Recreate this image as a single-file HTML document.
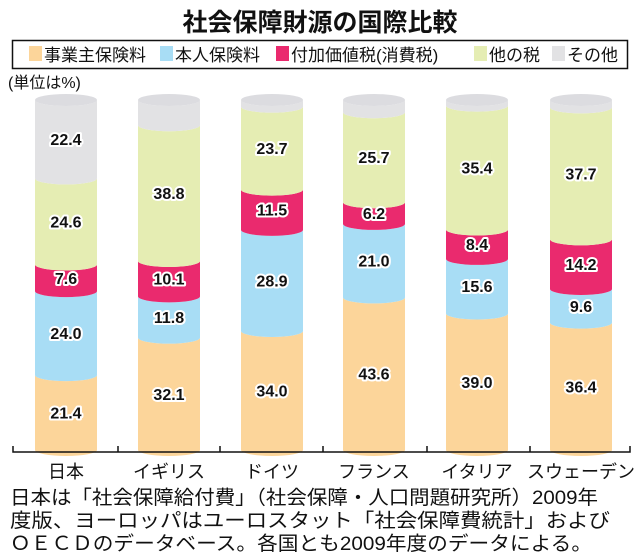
<!DOCTYPE html>
<html><head><meta charset="utf-8">
<style>
html,body{margin:0;padding:0;background:#fff;}
svg{display:block;}
text{font-family:"Liberation Sans","Noto Sans CJK JP",sans-serif;}
.v{font-size:16px;font-weight:bold;fill:#111;stroke:#fff;stroke-width:4px;paint-order:stroke;stroke-linejoin:round;text-anchor:middle;}
</style></head>
<body>
<svg id="s" width="640" height="555" viewBox="0 0 640 555" xmlns="http://www.w3.org/2000/svg">
<text x="320" y="31" font-size="25" font-weight="bold" text-anchor="middle" fill="#111">社会保障財源の国際比較</text>
<rect x="12.5" y="40.5" width="615" height="28" fill="#fff" stroke="#111" stroke-width="1.5"/>
<rect x="29" y="46" width="13" height="15" fill="#fcd59a"/>
<text x="44" y="61" font-size="17" fill="#111">事業主保険料</text>
<rect x="160" y="46" width="13" height="15" fill="#a8ddf5"/>
<text x="175" y="61" font-size="17" fill="#111">本人保険料</text>
<rect x="276" y="46" width="13" height="15" fill="#ea2a6e"/>
<text x="291" y="61" font-size="17" fill="#111">付加価値税(消費税)</text>
<rect x="474" y="46" width="13" height="15" fill="#e5edb3"/>
<text x="489" y="61" font-size="17" fill="#111">他の税</text>
<rect x="552" y="46" width="13" height="15" fill="#e2e2e4"/>
<text x="567" y="61" font-size="17" fill="#111">その他</text>
<text x="8" y="88" font-size="16" fill="#111">(単位は%)</text>
<g id="bars"></g>
<path d="M13 446 V452 H630 V446 M118 446 V452 M220 446 V452 M323 446 V452 M427 446 V452 M530 446 V452" fill="none" stroke="#111" stroke-width="1.5"/>
<g font-size="18" fill="#111" text-anchor="middle">
<text x="66" y="478">日本</text><text x="169" y="478">イギリス</text><text x="272" y="478">ドイツ</text>
<text x="374" y="478">フランス</text><text x="477" y="478">イタリア</text><text x="581" y="478">スウェーデン</text>
</g>
<g font-size="19.5" fill="#111">
<text x="10" y="504" textLength="588" lengthAdjust="spacingAndGlyphs">日本は「社会保障給付費」（社会保障・人口問題研究所）2009年</text>
<text x="10" y="527" textLength="600" lengthAdjust="spacingAndGlyphs">度版、ヨーロッパはユーロスタット「社会保障費統計」および</text>
<text x="10" y="550" textLength="582" lengthAdjust="spacingAndGlyphs">ＯＥＣＤのデータベース。各国とも2009年度のデータによる。</text>
</g>
</svg>
<script>
var data=[[66,[21.4,24.0,7.6,24.6,22.4],[1,1,1,1,1]],
[169,[32.1,11.8,10.1,38.8,7.2],[1,1,1,1,0]],
[272,[34.0,28.9,11.5,23.7,1.9],[1,1,1,1,0]],
[374,[43.6,21.0,6.2,25.7,3.5],[1,1,1,1,0]],
[477,[39.0,15.6,8.4,35.4,1.6],[1,1,1,1,0]],
[581,[36.4,9.6,14.2,37.7,2.1],[1,1,1,1,0]]];
var cols=["#fcd59a","#a8ddf5","#ea2a6e","#e5edb3","#e2e2e4"];
var g=document.getElementById("bars"),ns="http://www.w3.org/2000/svg",h="";
var B=450,K=3.5,rx=31,ry=6;
data.forEach(function(d){
 var cx=d[0],l=cx-rx,r=cx+rx,acc=0;
 d[1].forEach(function(v,i){
  var yb=B-acc*K,yt=B-(acc+v)*K;acc+=v;
  h+='<path d="M'+l+' '+yb+' A'+rx+' '+ry+' 0 0 0 '+r+' '+yb+' L'+r+' '+yt+' A'+rx+' '+ry+' 0 0 1 '+l+' '+yt+' Z" fill="'+cols[i]+'"/>';
 });
 h+='<ellipse cx="'+cx+'" cy="'+(B-100*K)+'" rx="'+rx+'" ry="'+ry+'" fill="#dcdce0"/>';
 acc=0;
 d[1].forEach(function(v,i){
  var ym=B-(acc+v/2)*K;acc+=v;
  if(d[2][i]) h+='<text class="v" x="'+cx+'" y="'+(ym+6)+'">'+v.toFixed(1)+'</text>';
 });
});
g.innerHTML=h;
</script>
</body></html>
